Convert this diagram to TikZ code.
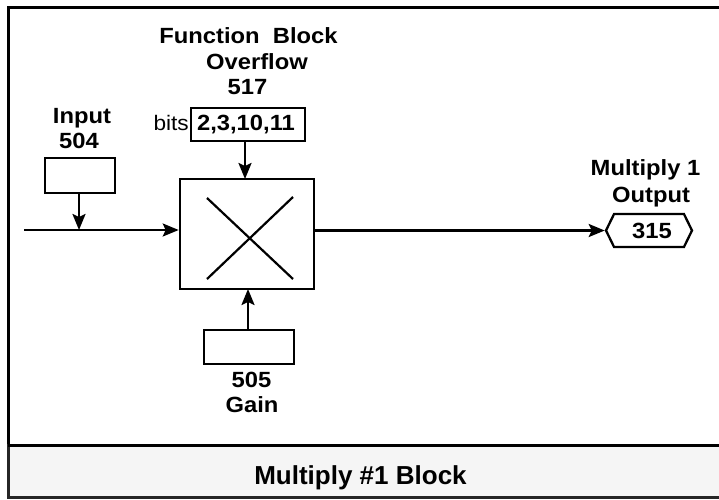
\documentclass[tikz,border=0pt]{standalone}
\usepackage{fontspec}
\setmainfont{Liberation Sans}
\newfontfamily\wfont{Liberation Sans}[FakeStretch=1.08]
\usetikzlibrary{arrows.meta,shapes.symbols}
\tikzset{
  lbl/.style={font=\wfont\bfseries\fontsize{22}{26}\selectfont, anchor=base, inner sep=0pt},
  boxed/.style={draw, line width=2.6pt, inner sep=0pt},
  conn/.style={line width=2.3pt, -{Stealth[length=16pt,width=13pt,inset=3pt]}},
}
\begin{document}
\begin{tikzpicture}[x=1pt,y=-1pt]
\useasboundingbox (0,0) rectangle (719,499);
\clip (0,0) rectangle (719,499);
% frame and banner
\fill[white] (0,0) rectangle (719,499);
\filldraw[fill=white, draw=black, line width=3pt] (8,7) rectangle (726,445);
\filldraw[fill=black!4, draw=black!85, line width=3pt] (8,445) rectangle (726,497);
\draw[line width=3pt] (8,445) -- (726,445);
\node[lbl, font=\bfseries\fontsize{26}{30}\selectfont] (title) at (360.5,484) {Multiply \#1 Block};

% labels
\node[lbl] (fb1) at (248.5,43) {Function\ \ Block};
\node[lbl] (fb2) at (257,69) {Overflow};
\node[lbl] (fb3) at (247.5,94) {517};
\node[lbl] (in1) at (82,123) {Input};
\node[lbl] (in2) at (79,148) {504};
\node[lbl] (g1) at (251.5,387) {505};
\node[lbl] (g2) at (252,412) {Gain};
\node[lbl] (o1) at (645.5,175) {Multiply 1};
\node[lbl] (o2) at (651,202) {Output};

% boxes
\node[boxed, minimum width=114pt, minimum height=33pt] (bits) at (248,124.5) {};
\node[lbl] (bitsval) at (246,130) {2,3,10,11};
\node[font=\wfont\fontsize{21}{24}\selectfont, anchor=base east, inner sep=0pt] (bitslbl) at (189,130) {bits};
\node[boxed, minimum width=70pt, minimum height=35pt] (inbox) at (80,175.5) {};
\node[boxed, minimum width=134pt, minimum height=110pt] (mult) at (247,234) {};
\node[boxed, minimum width=90pt, minimum height=34pt] (gain) at (249,347) {};
\node[signal, signal to=east and west, signal pointer angle=128, draw, line width=2.3pt,
      minimum width=86pt, minimum height=33pt, inner sep=0pt] (out) at (649,230.5) {};
\node[lbl] (outval) at (652,238) {315};

% multiply cross
\draw[line width=2.2pt] (207,198) -- (293,279);
\draw[line width=2.2pt] (293,197) -- (207,279);

% connectors
\coordinate (start) at (24,230);
\draw[conn] (start) -- (start -| mult.west);
\draw[conn] (inbox.south -| 79,0) -- (79,230);
\draw[conn] (bits.south -| 245,0) -- (245,179);
\draw[conn] (gain.north -| 248,0) -- (248,289);
\draw[conn] (mult.east |- 0,230.5) -- (out.west);
\end{tikzpicture}
\end{document}
